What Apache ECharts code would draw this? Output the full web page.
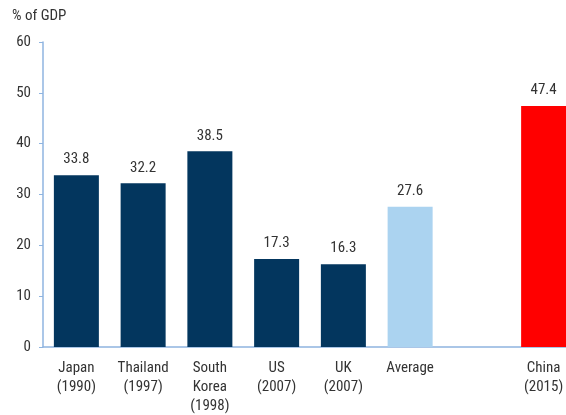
<!DOCTYPE html>
<html>
<head>
<meta charset="utf-8">
<script src="https://cdn.jsdelivr.net/npm/echarts@6/dist/echarts.min.js"></script>
<style>
  html, body { margin: 0; padding: 0; background: #fff; }
  #chart { width: 566px; height: 415px; }
</style>
</head>
<body>
<div id="chart"></div>
<script>
// categories and values (empty slot before China)
var categories = ['Japan\n(1990)', 'Thailand\n(1997)', 'South\nKorea\n(1998)', 'US\n(2007)', 'UK\n(2007)', 'Average', '', 'China\n(2015)']
var values = [33.8, 32.2, 38.5, 17.3, 16.3, 27.6, null, 47.4]
var barColors = ['#03365e', '#03365e', '#03365e', '#03365e', '#03365e', '#abd3f0', '#03365e', '#ff0000']
var yTicks = [0, 10, 20, 30, 40, 50, 60]

var font = '"Liberation Sans Narrow", "Roboto Condensed", Roboto, sans-serif'
var chart = echarts.init(document.getElementById('chart'))

var option = {
  animation: false,
  textStyle: { fontFamily: font },
  graphic: [{
    type: 'text',
    left: 12,
    top: 9,
    style: { text: '% of GDP', fontSize: 15, fill: '#333', fontFamily: font }
  }],
  grid: {
    left: 43,
    width: 534, // last slot runs past the right edge, as in the source
    top: 42,
    bottom: 68,
    outerBoundsMode: 'none',
    containLabel: false
  },
  xAxis: {
    type: 'category',
    data: categories,
    axisLine: { lineStyle: { color: '#8fb4e0', width: 1.5 } },
    axisTick: { show: false },
    axisLabel: {
      interval: 0,
      margin: 12,
      color: '#333',
      fontSize: 15,
      lineHeight: 19,
      fontFamily: font
    }
  },
  yAxis: {
    type: 'value',
    min: yTicks[0],
    max: yTicks[yTicks.length - 1],
    interval: 10,
    axisLine: { show: true, lineStyle: { color: '#8fb4e0', width: 1.5 } },
    axisTick: { show: true, length: 4, lineStyle: { color: '#8fb4e0' } },
    splitLine: { show: false },
    axisLabel: { color: '#333', fontSize: 15, margin: 12, fontFamily: font }
  },
  series: [{
    type: 'bar',
    barWidth: 45,
    data: values.map(function(v, i) {
      return { value: v, itemStyle: { color: barColors[i] } }
    }),
    label: {
      show: true,
      position: 'top',
      distance: 8,
      color: '#333',
      fontSize: 15,
      fontFamily: font,
      formatter: function(p) { return p.value == null ? '' : p.value.toFixed(1) }
    }
  }]
}
chart.setOption(option)
window.addEventListener('resize', function() {
  chart.resize()
})
</script>
</body>
</html>
